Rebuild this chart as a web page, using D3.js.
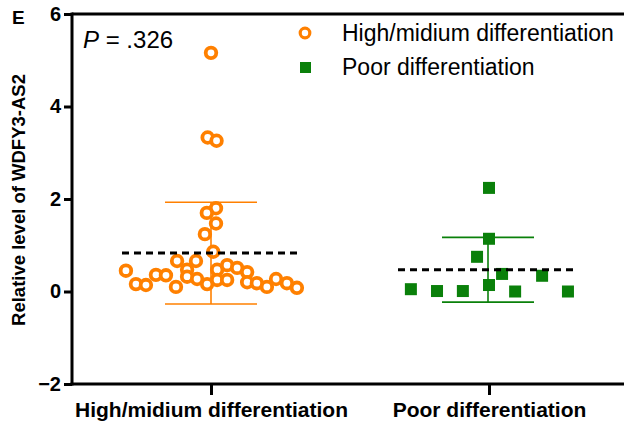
<!DOCTYPE html>
<html><head><meta charset="utf-8">
<script src="https://cdn.jsdelivr.net/npm/d3@7"></script>
<style>
body{margin:0;background:#fff;}
svg{display:block;font-family:Arial,"Liberation Sans",sans-serif;}
</style></head>
<body><svg id="c" width="624" height="425"></svg>
<script>
const categories = ["High/midium differentiation", "Poor differentiation"];
const highValues = [5.16,3.33,3.26,1.80,1.70,1.47,1.24,0.86,
  0.45,0.16,0.14,0.36,0.35,0.10,0.66,0.47,0.32,0.66,0.27,0.16,0.47,0.25,0.57,0.25,0.51,0.42,0.20,0.18,0.10,0.27,0.18,0.08];
const highJitter = [0.00,-0.012,0.020,0.018,-0.015,0.018,-0.022,0.008,
  -0.306,-0.270,-0.234,-0.198,-0.162,-0.126,-0.122,-0.086,-0.086,-0.054,-0.050,-0.014,0.022,0.022,0.058,0.058,0.094,0.130,0.130,0.165,0.201,0.234,0.273,0.309];
const poorValues = [2.24,1.14,0.75,0.38,0.34,0.14,0.05,0.01,0.01,0.00,0.00];
const poorJitter = [0.0,0.0,-0.043,0.047,0.191,0.0,-0.281,-0.187,-0.094,0.094,0.284];
const groupMean = [0.83, 0.47];
const groupSD = [1.10, 0.70];
const yTicks = [-2, 0, 2, 4, 6];
const pLabel = ".326";

const svg = d3.select("#c");
const y = d3.scaleLinear().domain([-2, 6]).range([384, 14]);
const x = d3.scaleLinear().domain([0, 1]).range([211, 489]);
const orange = "#ff8000", green = "#0a800a";
const FF = "Arial,'Liberation Sans',sans-serif";

// top frame line
svg.append("line").attr("x1",72).attr("x2",624).attr("y1",y(6)).attr("y2",y(6))
  .attr("stroke","#000").attr("stroke-width",3);

// y axis
const ya = svg.append("g").attr("transform","translate(72,0)")
  .call(d3.axisLeft(y).tickValues(yTicks).tickSize(8).tickPadding(3).tickFormat(d => d < 0 ? "\u2212" + Math.abs(d) : d));
ya.select(".domain").attr("stroke-width",3).attr("d",`M0,${y(-2)+1.5}V${y(6)-1.5}`);
ya.selectAll(".tick line").attr("stroke-width",3);
ya.selectAll(".tick text").attr("font-size",20).attr("font-weight","bold").attr("font-family",FF).attr("fill","#000");

// x axis
const xa = svg.append("g").attr("transform",`translate(0,${y(-2)})`)
  .call(d3.axisBottom(x).tickValues([0,1]).tickSize(11).tickPadding(7).tickFormat((d,i)=>categories[i]));
xa.select(".domain").attr("stroke-width",3).attr("d","M70.5,0H624");
xa.selectAll(".tick line").attr("stroke-width",3);
xa.selectAll(".tick text").attr("font-size",21).attr("font-weight","bold").attr("font-family",FF).attr("fill","#000");

// error bars
const colors = [orange, green];
[0,1].forEach(i => {
  const g = svg.append("g").attr("stroke", colors[i]).attr("stroke-width",1.6);
  const cx = x(i) + (i===1 ? -1 : 0);
  const hi = groupMean[i] + groupSD[i], lo = groupMean[i] - groupSD[i];
  g.append("line").attr("x1",cx).attr("x2",cx).attr("y1",y(hi)).attr("y2",y(lo));
  g.append("line").attr("x1",cx-46).attr("x2",cx+46).attr("y1",y(hi)).attr("y2",y(hi));
  g.append("line").attr("x1",cx-46).attr("x2",cx+46).attr("y1",y(lo)).attr("y2",y(lo));
});

// points
svg.append("g").selectAll("circle").data(highValues).join("circle")
  .attr("cx",(d,i)=>x(0 + highJitter[i])).attr("cy",d=>y(d)).attr("r",5.3)
  .attr("fill","#fff").attr("stroke",orange).attr("stroke-width",3.8);
svg.append("g").selectAll("rect").data(poorValues).join("rect")
  .attr("x",(d,i)=>x(1 + poorJitter[i]) - 6).attr("y",d=>y(d) - 6).attr("width",12).attr("height",12)
  .attr("fill",green);

// mean lines
[0,1].forEach(i => {
  const cx = x(i) + (i===1 ? -2 : 0);
  svg.append("line").attr("x1",cx-89).attr("x2",cx+89).attr("y1",y(groupMean[i])).attr("y2",y(groupMean[i]))
    .attr("stroke","#000").attr("stroke-width",3).attr("stroke-dasharray","7,5");
});

// y title
svg.append("text").attr("transform","translate(25,200) rotate(-90)").attr("text-anchor","middle")
  .attr("font-size",18.5).attr("font-weight","bold").text("Relative level of WDFY3-AS2");
// panel label
svg.append("text").attr("x",12).attr("y",24).attr("font-size",19).attr("font-weight","bold").text("E");
// P value
const pt = svg.append("text").attr("x",83).attr("y",48).attr("font-size",24);
pt.append("tspan").attr("font-style","italic").text("P");
pt.append("tspan").text(" = " + pLabel);

// legend
const leg = svg.append("g");
leg.append("circle").attr("cx",305).attr("cy",33).attr("r",4.8).attr("fill","#fff").attr("stroke",orange).attr("stroke-width",3.2);
leg.append("rect").attr("x",300).attr("y",62).attr("width",11).attr("height",11).attr("fill",green);
leg.append("text").attr("x",342).attr("y",41).attr("font-size",23).text(categories[0]);
leg.append("text").attr("x",342).attr("y",75).attr("font-size",23).text(categories[1]);
</script></body></html>
